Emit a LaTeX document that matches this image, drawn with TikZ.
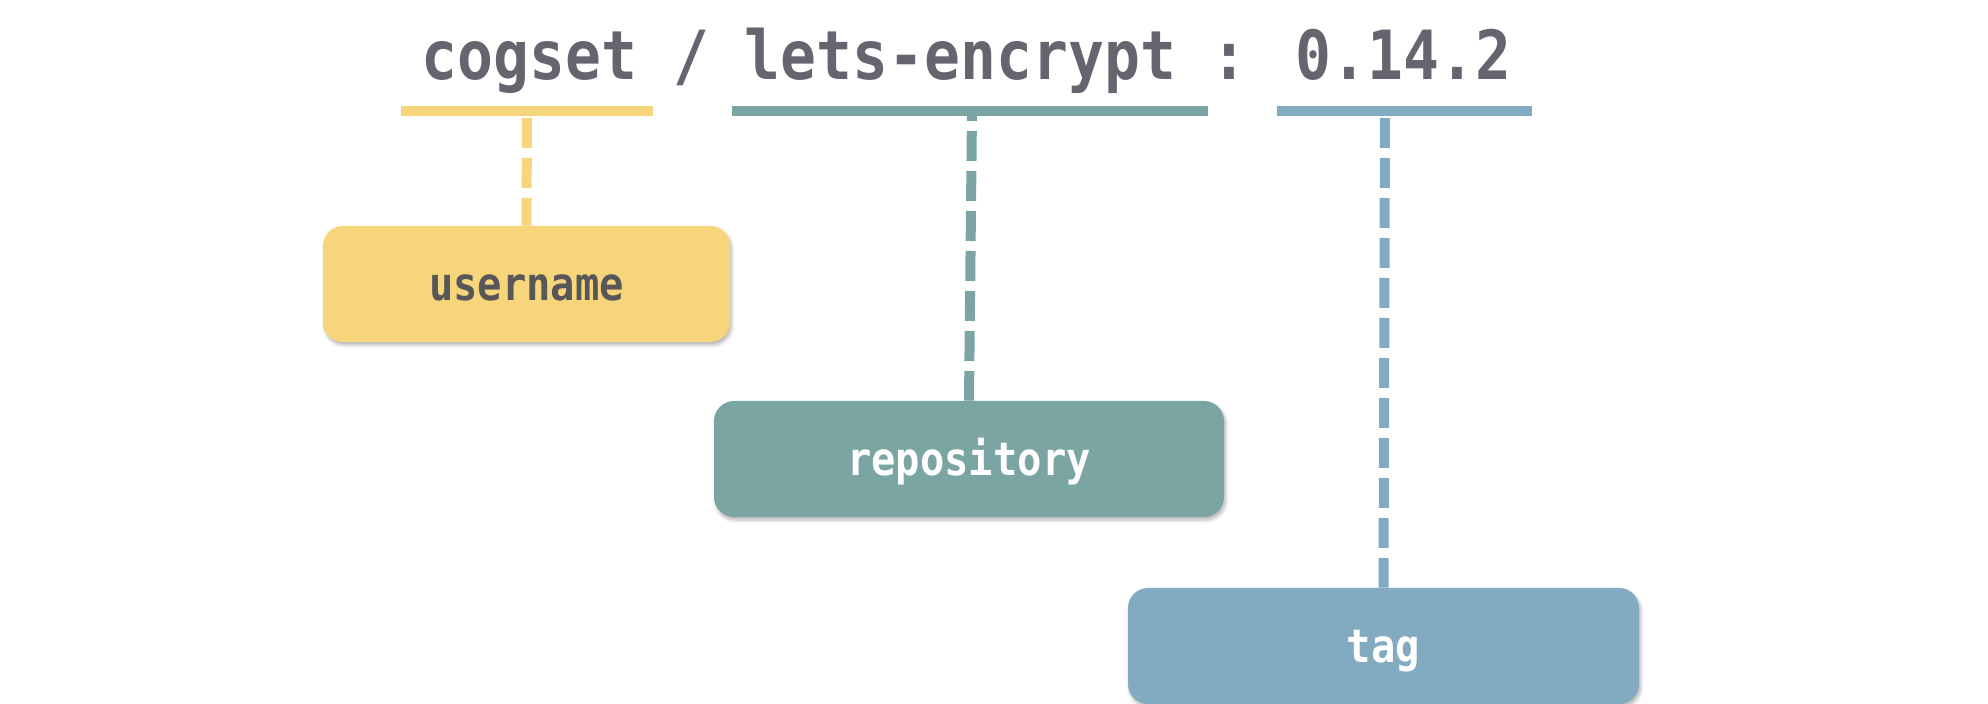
\documentclass[tikz,border=0pt]{standalone}
\usepackage{fontspec}
\newfontfamily\codefont[FakeStretch=0.88]{DejaVu Sans Mono}
\usetikzlibrary{shadows.blur}
\definecolor{titlegray}{HTML}{66646F}
\definecolor{labelgray}{HTML}{57575A}
\definecolor{useryellow}{HTML}{F7D57B}
\definecolor{repoteal}{HTML}{7BA5A3}
\definecolor{tagblue}{HTML}{82AAC1}
\tikzset{
  partbox/.style={rounded corners=10pt, minimum height=58pt, text height=19pt, text depth=2pt,
    font={\fontsize{23}{24}\codefont\bfseries},
    blur shadow={shadow xshift=0.8pt, shadow yshift=-1.5pt, shadow blur steps=6, shadow opacity=30}},
  underbar/.style={line width=5pt},
  leader/.style={line width=5pt, dash pattern=on 15pt off 5pt}
}

\begin{document}
\begin{tikzpicture}[x=0.5pt,y=-0.5pt]
      \useasboundingbox (0,0) rectangle (1988,704);
      % image reference
      \node[anchor=base, text=titlegray, font={\fontsize{33.9}{36}\codefont\bfseries}] (name) at (966.5,80) {cogset / lets-encrypt : 0.14.2};
      % underlines
      \draw[underbar,useryellow] (401,111) -- (653,111);
      \draw[underbar,repoteal] (732,111) -- (1208,111);
      \draw[underbar,tagblue] (1277,111) -- (1532,111);
      \coordinate (userbar) at (527,111);
      \coordinate (repobar) at (972,111);
      \coordinate (tagbar) at (1385,111);
      % parts
      \node[partbox, fill=useryellow, text=labelgray, minimum width=203.5pt] (user) at (526.5,284) {username};
      \node[partbox, fill=repoteal, text=white, minimum width=255pt] (repo) at (969,459) {repository};
      \node[partbox, fill=tagblue, text=white, minimum width=255.5pt] (tag) at (1383.5,646) {tag};
      % leaders
      \draw[leader, useryellow, dash phase=16.5pt] (userbar) -- (user.north);
      \draw[leader, repoteal, dash phase=10pt] (repobar) -- (repo.north);
      \draw[leader, tagblue, dash phase=16.5pt] (tagbar) -- (tag.north);
\end{tikzpicture}
\end{document}
